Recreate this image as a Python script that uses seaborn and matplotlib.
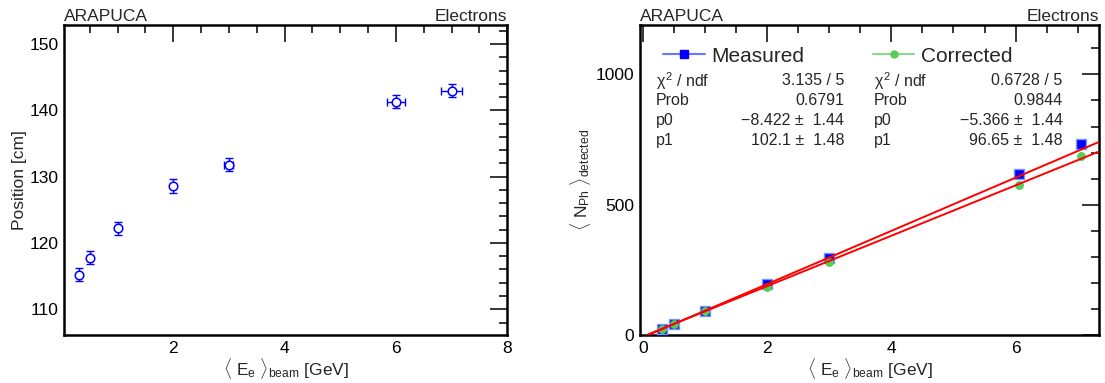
import numpy as np
import pandas as pd
import matplotlib
matplotlib.use("Agg")
import matplotlib.pyplot as plt
from matplotlib.lines import Line2D
from matplotlib.ticker import MultipleLocator
import seaborn as sns

sns.set_theme(style="white")
plt.rcParams['font.family'] = ['Liberation Sans', 'DejaVu Sans']
plt.rcParams['mathtext.fontset'] = 'custom'
plt.rcParams['mathtext.rm'] = 'Liberation Sans'
plt.rcParams['mathtext.it'] = 'Liberation Sans'

# Left panel: shower position vs beam energy
energy = [0.3, 0.5, 1.0, 2.0, 3.0, 6.0, 7.0]
energy_err = [0.0, 0.0, 0.0, 0.0, 0.08, 0.16, 0.19]
position = [115.2, 117.8, 122.2, 128.6, 131.8, 141.3, 143.0]
position_err = [1.0, 1.0, 1.0, 1.0, 1.0, 1.0, 1.0]

# Right panel: detected photons vs beam energy
energy_ph = [0.3, 0.5, 1.0, 2.0, 3.0, 6.05, 7.05]
measured = [22, 43, 93, 195, 296, 618, 734]
measured_err = [4, 4, 5, 6, 8, 12, 15]
corrected = [24, 43, 92, 186, 282, 577, 686]
corrected_err = [4, 4, 5, 6, 8, 12, 15]

# fit results (pol1) shown in the stat boxes
fit_meas = (-8.422, 102.1)
fit_corr = (-5.366, 96.65)
stats_meas = [("$\\chi^2$ / ndf", "3.135 / 5"), ("Prob", "0.6791"),
              ("p0", "\u22128.422 \u00b1  1.44"), ("p1", "102.1 \u00b1  1.48")]
stats_corr = [("$\\chi^2$ / ndf", "0.6728 / 5"), ("Prob", "0.9844"),
              ("p0", "\u22125.366 \u00b1  1.44"), ("p1", "96.65 \u00b1  1.48")]

fig = plt.figure(figsize=(11.05, 3.83), dpi=100)
ax1 = fig.add_axes([0.058, 0.125, 0.401, 0.81])
ax2 = fig.add_axes([0.579, 0.125, 0.416, 0.81])

blue = '#0000ff'
green = '#55cc55'
FS = 12.5


def root_style(ax):
    for s in ax.spines.values():
        s.set_linewidth(1.8)
        s.set_color('black')
    ax.tick_params(which='both', direction='in', top=True, right=True,
                   labelsize=FS, colors='black', pad=4)
    ax.tick_params(which='major', length=12, width=1.1)
    ax.tick_params(which='minor', length=6, width=1.1)
    ax.grid(False)


# ---- left panel
df1 = pd.DataFrame({'E': energy, 'pos': position})
ax1.errorbar(energy, position, xerr=energy_err, yerr=position_err, fmt='none',
             ecolor=blue, elinewidth=1, capsize=3, capthick=1)
sns.scatterplot(data=df1, x='E', y='pos', ax=ax1, marker='o', s=38,
                facecolor='white', edgecolor=blue, linewidth=1.1, zorder=3)
ax1.set_xlim(0.04, 8)
ax1.set_ylim(106.1, 152.9)
ax1.xaxis.set_major_locator(MultipleLocator(2))
ax1.xaxis.set_minor_locator(MultipleLocator(0.5))
ax1.yaxis.set_major_locator(MultipleLocator(10))
ax1.yaxis.set_minor_locator(MultipleLocator(2))
root_style(ax1)
ax1.set_xlabel(r'$\langle\ \mathregular{E_e}\ \rangle_{\mathregular{beam}}$ [GeV]', fontsize=FS, labelpad=0)
ax1.set_ylabel('Position [cm]', fontsize=FS, labelpad=2)
ax1.set_title('ARAPUCA', loc='left', fontsize=FS, pad=3)
ax1.set_title('Electrons', loc='right', fontsize=FS, pad=3)

# ---- right panel
df_m = pd.DataFrame({'E': energy_ph, 'N': measured})
df_c = pd.DataFrame({'E': energy_ph, 'N': corrected})
ax2.errorbar(energy_ph, measured, yerr=measured_err, fmt='none',
             ecolor='#8899ff', elinewidth=1.5, capsize=0)
ax2.errorbar(energy_ph, corrected, yerr=corrected_err, fmt='none',
             ecolor='#99dd99', elinewidth=1.5, capsize=0)
sns.scatterplot(data=df_m, x='E', y='N', ax=ax2, marker='s', s=42,
                color=blue, edgecolor='#7799ff', linewidth=1, zorder=3)
sns.scatterplot(data=df_c, x='E', y='N', ax=ax2, marker='o', s=34,
                color=green, edgecolor=green, linewidth=0.5, zorder=4)

x_fit = np.array([0.05, 7.35])
for p0, p1 in (fit_meas, fit_corr):
    fit_df = pd.DataFrame({'E': x_fit, 'N': p0 + p1 * x_fit})
    sns.lineplot(data=fit_df, x='E', y='N', ax=ax2, color='red', linewidth=1.4, zorder=5)

ax2.set_xlim(-0.05, 7.35)
ax2.set_ylim(0, 1190)
ax2.xaxis.set_major_locator(MultipleLocator(2))
ax2.xaxis.set_minor_locator(MultipleLocator(0.5))
ax2.yaxis.set_major_locator(MultipleLocator(500))
ax2.yaxis.set_minor_locator(MultipleLocator(100))
root_style(ax2)
ax2.set_xlabel(r'$\langle\ \mathregular{E_e}\ \rangle_{\mathregular{beam}}$ [GeV]', fontsize=FS, labelpad=0)
ax2.set_ylabel(r'$\langle\ \mathregular{N_{Ph}}\ \rangle_{\mathregular{detected}}$', fontsize=FS, labelpad=2)
ax2.set_title('ARAPUCA', loc='left', fontsize=FS, pad=3)
ax2.set_title('Electrons', loc='right', fontsize=FS, pad=3)

handles = [Line2D([0], [0], color='#6677ff', marker='s', markersize=6,
                  markerfacecolor=blue, markeredgecolor=blue, linewidth=1.5),
           Line2D([0], [0], color='#88dd88', marker='o', markersize=5,
                  markerfacecolor=green, markeredgecolor=green, linewidth=1.5)]
ax2.legend(handles, ['Measured', 'Corrected'], loc='upper left', ncol=2,
           bbox_to_anchor=(0.01, 0.99), frameon=False, fontsize=15,
           handlelength=2.0, handletextpad=0.3, columnspacing=3.3)

rows_y = [0.82, 0.755, 0.692, 0.628]
for (lx, rx), stats in (((0.035, 0.445), stats_meas), ((0.51, 0.92), stats_corr)):
    for yy, (name, val) in zip(rows_y, stats):
        ax2.text(lx, yy, name, transform=ax2.transAxes, fontsize=11.5,
                 va='center', ha='left')
        ax2.text(rx, yy, val, transform=ax2.transAxes, fontsize=11.5,
                 va='center', ha='right')

fig.savefig('out.png', dpi=100)
